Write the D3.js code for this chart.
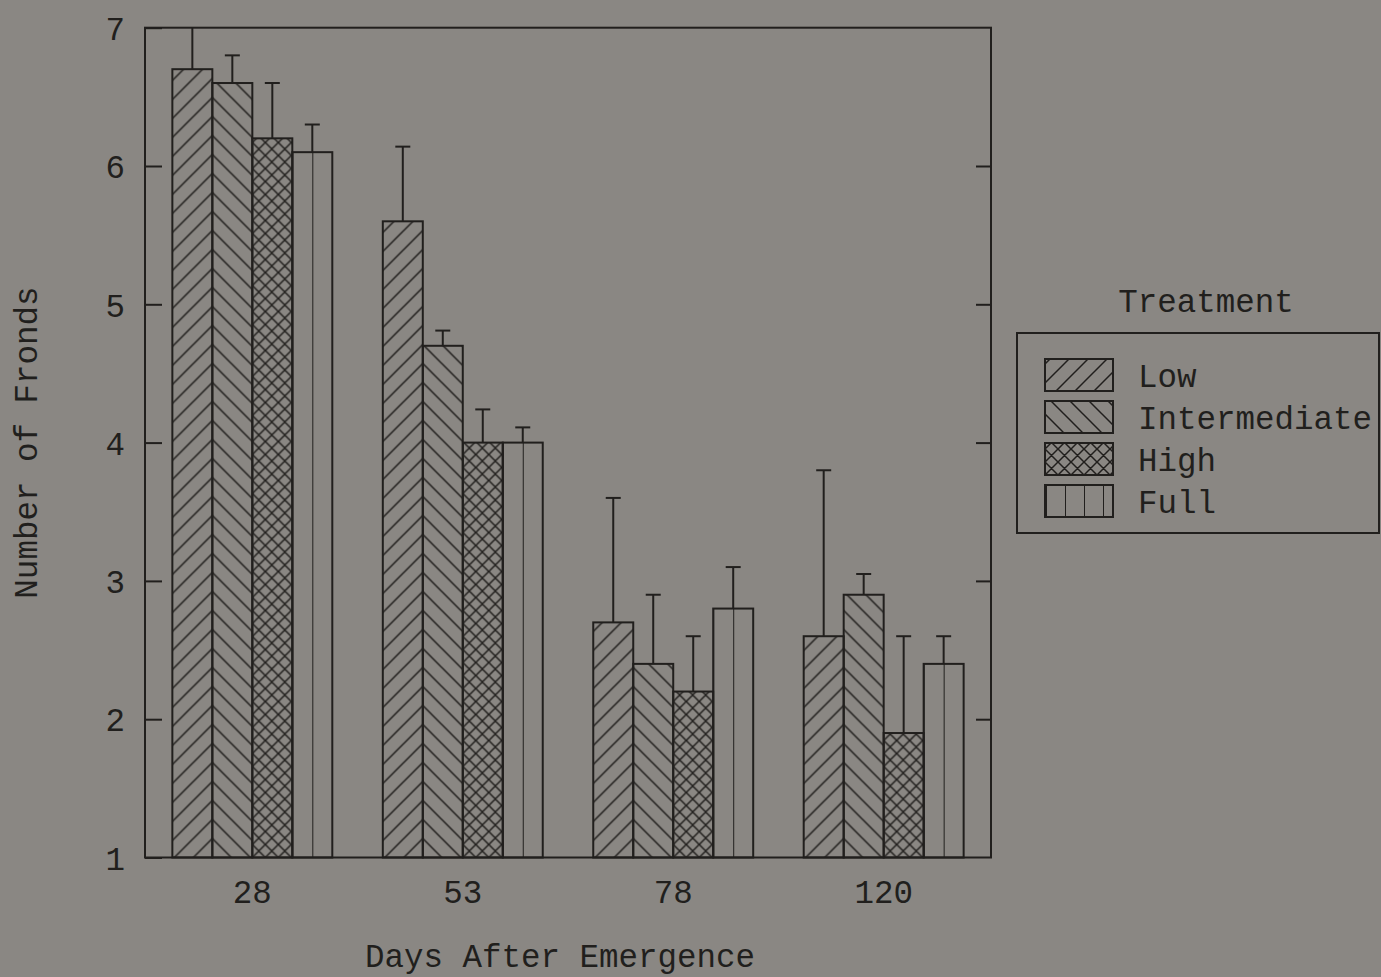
<!DOCTYPE html>
<html>
<head>
<meta charset="utf-8">
<script src="https://cdn.jsdelivr.net/npm/d3@7"></script>
<style>
  html, body { margin: 0; padding: 0; background: #8a8783; }
  svg { display: block; }
  text { font-family: "Liberation Mono", "DejaVu Sans Mono", monospace; fill: #211f1d; }
</style>
</head>
<body>
<script>
// Days after emergence (x groups)
const days = ["28", "53", "78", "120"];
// Shade treatments (series)
const treatments = ["Low", "Intermediate", "High", "Full"];
// Mean number of fronds per treatment, one value per day
const lowMeans = [6.7, 5.6, 2.7, 2.6];
const intermediateMeans = [6.6, 4.7, 2.4, 2.9];
const highMeans = [6.2, 4.0, 2.2, 1.9];
const fullMeans = [6.1, 4.0, 2.8, 2.4];
// Standard errors (upper whisker length)
const lowErr = [0.3, 0.54, 0.9, 1.2];
const intermediateErr = [0.2, 0.11, 0.5, 0.15];
const highErr = [0.4, 0.24, 0.4, 0.7];
const fullErr = [0.2, 0.11, 0.3, 0.2];
// Y axis ticks
const yTicks = [1, 2, 3, 4, 5, 6, 7];

const meansBy = { Low: lowMeans, Intermediate: intermediateMeans, High: highMeans, Full: fullMeans };
const errBy = { Low: lowErr, Intermediate: intermediateErr, High: highErr, Full: fullErr };

const W = 1381, H = 977;
const ink = "#211f1d";
const fontSize = 32.5;
const plot = { left: 145, right: 991, top: 27.7, bottom: 857.5 };

const svg = d3.select("body").append("svg").attr("width", W).attr("height", H);
svg.append("rect").attr("width", W).attr("height", H).attr("fill", "#8a8783");
const defs = svg.append("defs");

const x0 = d3.scaleBand().domain(days).range([plot.left, plot.right])
  .paddingInner(0.24).paddingOuter(0.13);
const x1 = d3.scaleBand().domain(treatments).range([0, x0.bandwidth()]);
const y = d3.scaleLinear().domain([1, 7]).range([plot.bottom, plot.top]);

// Hatch pattern builders; each returns the pattern id
let patCount = 0;
function makePattern(kind, ox, oy, period) {
  const id = "pat" + (patCount++);
  const p = defs.append("pattern").attr("id", id)
    .attr("patternUnits", "userSpaceOnUse")
    .attr("x", ox).attr("y", oy)
    .attr("width", period).attr("height", period);
  const s = period;
  const up = `M0,${s} L${s},0 M${-s/4},${s/4} L${s/4},${-s/4} M${s*3/4},${s*5/4} L${s*5/4},${s*3/4}`;
  const down = `M0,0 L${s},${s} M${-s/4},${s*3/4} L${s/4},${s*5/4} M${s*3/4},${-s/4} L${s*5/4},${s/4}`;
  let d, w = 1.5;
  if (kind === "Low") d = up;
  else if (kind === "Intermediate") d = down;
  else if (kind === "High") d = up + " " + down;
  else { d = `M0,0 L0,${s}`; w = 2; }
  p.append("path").attr("d", d).attr("stroke", ink).attr("stroke-width", w).attr("fill", "none");
  return id;
}

function patternFor(kind, left, right, bottom, isLegend) {
  if (kind === "Low") return makePattern(kind, right, bottom, 19);
  if (kind === "Intermediate") return makePattern(kind, left, bottom, 19);
  if (kind === "High") return makePattern(kind, left, bottom, 13);
  return isLegend ? makePattern(kind, left + 1, bottom, 19) : makePattern(kind, left, bottom, x1.bandwidth() / 2);
}

// Bars
const rows = [];
days.forEach((d, i) => {
  treatments.forEach(t => {
    rows.push({ day: d, t, mean: meansBy[t][i], err: errBy[t][i] });
  });
});
rows.forEach(r => {
  const left = x0(r.day) + x1(r.t);
  r.pid = patternFor(r.t, left, left + x1.bandwidth(), plot.bottom, false);
});

svg.append("g").selectAll("rect").data(rows).join("rect")
  .attr("x", r => x0(r.day) + x1(r.t))
  .attr("y", r => y(r.mean))
  .attr("width", x1.bandwidth())
  .attr("height", r => y(1) - y(r.mean))
  .attr("fill", r => `url(#${r.pid})`)
  .attr("stroke", ink).attr("stroke-width", 2);

// Error whiskers (upper only)
const cx = r => x0(r.day) + x1(r.t) + x1.bandwidth() / 2;
const errG = svg.append("g").attr("stroke", ink).attr("stroke-width", 2);
errG.selectAll("line.stem").data(rows).join("line").attr("class", "stem")
  .attr("x1", cx).attr("x2", cx)
  .attr("y1", r => y(r.mean))
  .attr("y2", r => y(Math.min(7, r.mean + r.err)));
errG.selectAll("line.cap").data(rows.filter(r => r.mean + r.err < 7)).join("line").attr("class", "cap")
  .attr("x1", r => cx(r) - 7.5)
  .attr("x2", r => cx(r) + 7.5)
  .attr("y1", r => y(r.mean + r.err))
  .attr("y2", r => y(r.mean + r.err));

// Frame
svg.append("rect")
  .attr("x", plot.left).attr("y", plot.top)
  .attr("width", plot.right - plot.left).attr("height", plot.bottom - plot.top)
  .attr("fill", "none").attr("stroke", ink).attr("stroke-width", 2);

// Left axis: inward ticks, labels outside
const yAxisL = svg.append("g").attr("transform", `translate(${plot.left},0)`)
  .call(d3.axisLeft(y).tickValues(yTicks).tickSize(-17).tickPadding(20).tickFormat(d3.format("d")));
yAxisL.select(".domain").remove();
yAxisL.selectAll("line").attr("stroke", ink).attr("stroke-width", 2);
yAxisL.selectAll("text").attr("font-size", fontSize).attr("dy", "0.36em").attr("fill", ink);
yAxisL.attr("font-family", null).attr("font-size", null);

// Right axis: inward ticks only
const yAxisR = svg.append("g").attr("transform", `translate(${plot.right},0)`)
  .call(d3.axisRight(y).tickValues(yTicks.slice(1, -1)).tickSize(-15).tickFormat(""));
yAxisR.select(".domain").remove();
yAxisR.selectAll("line").attr("stroke", ink).attr("stroke-width", 2);

// Bottom axis: labels only
const xAxis = svg.append("g").attr("transform", `translate(0,${plot.bottom})`)
  .call(d3.axisBottom(x0).tickSize(0).tickPadding(22));
xAxis.select(".domain").remove();
xAxis.selectAll("text").attr("font-size", fontSize).attr("fill", ink);
xAxis.attr("font-family", null).attr("font-size", null);

// Axis titles
svg.append("text").attr("x", 560).attr("y", 967).attr("text-anchor", "middle")
  .attr("font-size", fontSize).text("Days After Emergence");
svg.append("text").attr("transform", `translate(37,${(plot.top + plot.bottom) / 2}) rotate(-90)`)
  .attr("text-anchor", "middle").attr("font-size", fontSize).text("Number of Fronds");

// Legend
svg.append("text").attr("x", 1206).attr("y", 312).attr("text-anchor", "middle")
  .attr("font-size", fontSize).text("Treatment");
svg.append("rect").attr("x", 1017).attr("y", 333).attr("width", 362).attr("height", 200)
  .attr("fill", "none").attr("stroke", ink).attr("stroke-width", 2);

const leg = svg.append("g");
treatments.forEach((t, i) => {
  const sx = 1045, sy = 359 + i * 42, sw = 68, sh = 32;
  const pid = patternFor(t, sx, sx + sw, sy + sh, true);
  leg.append("rect").attr("x", sx).attr("y", sy).attr("width", sw).attr("height", sh)
    .attr("fill", `url(#${pid})`).attr("stroke", ink).attr("stroke-width", 2);
  leg.append("text").attr("x", 1138).attr("y", sy + 28).attr("font-size", fontSize).text(t);
});
</script>
</body>
</html>
